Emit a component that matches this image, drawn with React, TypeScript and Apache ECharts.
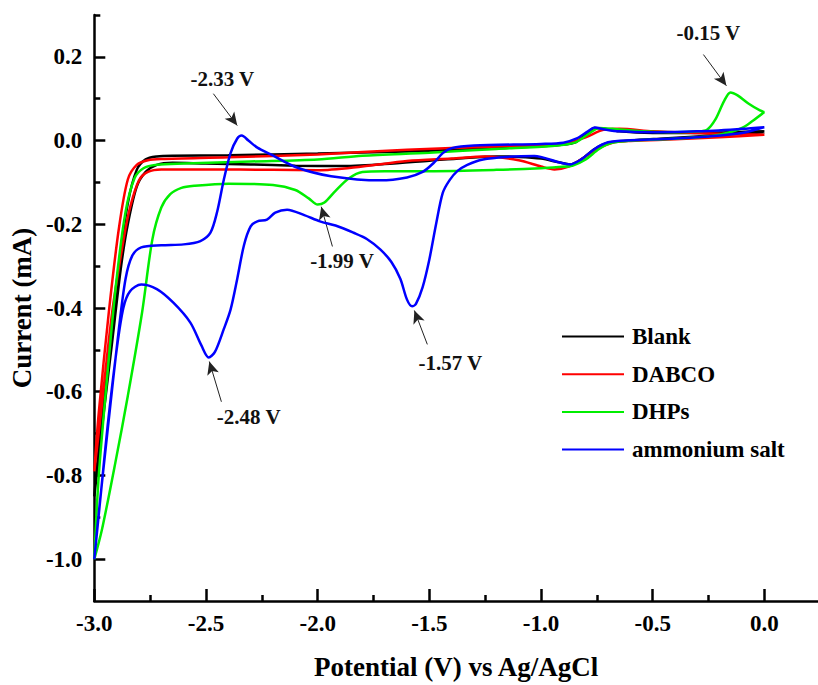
import React, { useEffect, useRef } from 'react';
import * as echarts from 'echarts';

const FONT = 'Liberation Serif';

const seriesNames = ['Blank', 'DABCO', 'DHPs', 'ammonium salt'];
const seriesColors = ['#000000', '#ff0000', '#00ee00', '#0000ff'];

const blank: number[][] = [
  [0, 0.02], [-0.15, 0.015], [-0.3, 0.01], [-0.45, 0.005], [-0.6, 0.0], [-0.7, -0.005], [-0.76, -0.02],
  [-0.82, -0.045], [-0.87, -0.057], [-0.92, -0.052], [-1.0, -0.043], [-1.1, -0.039], [-1.2, -0.038],
  [-1.35, -0.042], [-1.5, -0.048], [-1.7, -0.056], [-1.9, -0.061], [-2.1, -0.06], [-2.3, -0.057],
  [-2.5, -0.055], [-2.65, -0.053], [-2.72, -0.058], [-2.77, -0.075], [-2.81, -0.11], [-2.85, -0.2],
  [-2.88, -0.3], [-2.92, -0.48], [-2.96, -0.66], [-3.0, -0.85],
  [-2.97, -0.68], [-2.93, -0.5], [-2.89, -0.3], [-2.85, -0.15], [-2.81, -0.07], [-2.77, -0.045],
  [-2.72, -0.038], [-2.65, -0.036], [-2.4, -0.035], [-2.0, -0.031], [-1.6, -0.026], [-1.2, -0.018],
  [-0.95, -0.012], [-0.85, -0.005], [-0.8, 0.015], [-0.76, 0.03], [-0.72, 0.029], [-0.65, 0.022],
  [-0.5, 0.018], [-0.3, 0.018], [-0.15, 0.02], [0, 0.022],
];

const dabco: number[][] = [
  [0, 0.014], [-0.2, 0.008], [-0.4, 0.003], [-0.6, -0.001], [-0.68, -0.005], [-0.75, -0.02],
  [-0.82, -0.045], [-0.88, -0.063], [-0.94, -0.069], [-1.0, -0.062], [-1.1, -0.047], [-1.25, -0.038],
  [-1.4, -0.043], [-1.6, -0.049], [-1.8, -0.062], [-2.0, -0.071], [-2.2, -0.07], [-2.5, -0.069],
  [-2.7, -0.069], [-2.76, -0.075], [-2.8, -0.095], [-2.84, -0.16], [-2.87, -0.24], [-2.92, -0.41],
  [-2.97, -0.65], [-3.0, -0.79],
  [-2.98, -0.65], [-2.935, -0.41], [-2.89, -0.21], [-2.85, -0.093], [-2.81, -0.058], [-2.76, -0.047],
  [-2.7, -0.044], [-2.4, -0.04], [-2.0, -0.033], [-1.6, -0.022], [-1.2, -0.014], [-0.9, -0.008],
  [-0.8, 0.008], [-0.72, 0.026], [-0.65, 0.028], [-0.5, 0.022], [-0.3, 0.018], [-0.1, 0.015], [0, 0.014],
];

const dhps: number[][] = [
  [0, 0.068], [-0.05, 0.048], [-0.1, 0.03], [-0.2, 0.014], [-0.3, 0.008], [-0.45, 0.003], [-0.6, 0.0],
  [-0.68, -0.005], [-0.74, -0.02], [-0.8, -0.045], [-0.86, -0.06], [-0.92, -0.063], [-1.0, -0.066],
  [-1.2, -0.07], [-1.5, -0.073], [-1.7, -0.073], [-1.8, -0.075], [-1.86, -0.09], [-1.92, -0.12],
  [-1.97, -0.148], [-2.0, -0.153], [-2.04, -0.138], [-2.1, -0.118], [-2.2, -0.106], [-2.4, -0.103],
  [-2.55, -0.108], [-2.61, -0.113], [-2.66, -0.128], [-2.7, -0.16], [-2.74, -0.236], [-2.786, -0.41],
  [-2.85, -0.61], [-2.906, -0.77], [-2.966, -0.93], [-3.0, -1.0],
  [-2.98, -0.8], [-2.94, -0.55], [-2.9, -0.33], [-2.86, -0.17], [-2.82, -0.09], [-2.78, -0.066],
  [-2.72, -0.058], [-2.6, -0.055], [-2.3, -0.05], [-2.0, -0.045], [-1.8, -0.036], [-1.5, -0.029],
  [-1.2, -0.02], [-0.95, -0.013], [-0.85, -0.005], [-0.79, 0.015], [-0.74, 0.03], [-0.68, 0.028],
  [-0.55, 0.022], [-0.4, 0.02], [-0.3, 0.022], [-0.257, 0.026], [-0.22, 0.05], [-0.18, 0.095],
  [-0.152, 0.115], [-0.12, 0.108], [-0.07, 0.088], [-0.02, 0.072], [0, 0.068],
];

const ammonium: number[][] = [
  [0, 0.032], [-0.1, 0.018], [-0.25, 0.01], [-0.45, 0.004], [-0.6, 0.001], [-0.7, -0.004], [-0.76, -0.02],
  [-0.82, -0.045], [-0.87, -0.057], [-0.92, -0.052], [-1.03, -0.037], [-1.15, -0.039], [-1.26, -0.045],
  [-1.33, -0.058], [-1.375, -0.073], [-1.41, -0.095], [-1.44, -0.125], [-1.47, -0.2], [-1.5, -0.284],
  [-1.53, -0.35], [-1.56, -0.39], [-1.577, -0.396], [-1.6, -0.38], [-1.63, -0.33], [-1.67, -0.29],
  [-1.72, -0.26], [-1.78, -0.235], [-1.84, -0.22], [-1.92, -0.203], [-1.99, -0.193], [-2.06, -0.178],
  [-2.137, -0.165], [-2.19, -0.172], [-2.227, -0.189], [-2.27, -0.193], [-2.3, -0.205], [-2.33, -0.25],
  [-2.36, -0.33], [-2.39, -0.404], [-2.42, -0.45], [-2.46, -0.505], [-2.488, -0.518], [-2.52, -0.49],
  [-2.57, -0.435], [-2.645, -0.388], [-2.72, -0.355], [-2.79, -0.344], [-2.84, -0.36], [-2.87, -0.4],
  [-2.9, -0.5], [-2.94, -0.68], [-2.97, -0.84], [-3.0, -1.0],
  [-2.98, -0.89], [-2.94, -0.69], [-2.89, -0.45], [-2.86, -0.33], [-2.83, -0.275], [-2.79, -0.255],
  [-2.7, -0.25], [-2.6, -0.248], [-2.525, -0.24], [-2.48, -0.22], [-2.45, -0.17], [-2.42, -0.093],
  [-2.39, -0.03], [-2.36, 0.005], [-2.34, 0.012], [-2.31, 0.0], [-2.27, -0.017], [-2.21, -0.033],
  [-2.09, -0.065], [-1.94, -0.085], [-1.72, -0.095], [-1.6, -0.088], [-1.53, -0.075], [-1.48, -0.053],
  [-1.44, -0.03], [-1.4, -0.018], [-1.3, -0.012], [-1.0, -0.008], [-0.9, -0.005], [-0.84, 0.005],
  [-0.79, 0.022], [-0.76, 0.031], [-0.72, 0.027], [-0.65, 0.022], [-0.5, 0.02], [-0.3, 0.022],
  [-0.1, 0.028], [0, 0.032],
];

const xMajorTicks = [-3.0, -2.5, -2.0, -1.5, -1.0, -0.5, 0.0];
const xMinorTicks = [-2.75, -2.25, -1.75, -1.25, -0.75, -0.25];
const yMajorTicks = [-1.0, -0.8, -0.6, -0.4, -0.2, 0.0, 0.2];
const yMinorTicks = [-0.9, -0.7, -0.5, -0.3, -0.1, 0.1, 0.3];

const peakLabels = ['-2.33 V', '-0.15 V', '-1.99 V', '-1.57 V', '-2.48 V'];
const peakLabelAt = [[-2.427, 0.148], [-0.251, 0.258], [-1.891, -0.288], [-1.406, -0.531], [-2.309, -0.66]];
const arrowFrom = [[-2.467, 0.112], [-0.273, 0.2055], [-1.934, -0.253], [-1.509, -0.487], [-2.431, -0.624]];
const arrowTo = [[-2.36, 0.036], [-0.17, 0.131], [-1.984, -0.158], [-1.567, -0.406], [-2.485, -0.528]];

export default function App() {
  const ref = useRef<HTMLDivElement>(null);
  useEffect(() => {
    document.body.style.margin = '0';
    if (!ref.current) return;
    const chart = echarts.init(ref.current, undefined, { renderer: 'svg' });
    const datasets = [blank, dabco, dhps, ammonium];
    const series: any[] = seriesNames.map((name, i) => ({
      name,
      type: 'line',
      data: datasets[i],
      xAxisIndex: 0,
      yAxisIndex: 0,
      showSymbol: false,
      symbol: 'none',
      smooth: 0.3,
      lineStyle: { color: seriesColors[i], width: 2.5 },
      itemStyle: { color: seriesColors[i] },
      z: 2 + i,
    }));
    series[3].markLine = {
      silent: true,
      animation: false,
      symbol: ['none', 'arrow'],
      symbolSize: [9, 13],
      label: { show: false },
      lineStyle: { color: '#222', width: 1, type: 'solid' },
      data: arrowFrom.map((f, i) => [
        { coord: f, symbol: 'none' },
        { coord: arrowTo[i], symbol: 'arrow' },
      ]),
    };
    series[3].markPoint = {
      silent: true,
      animation: false,
      symbol: 'circle',
      symbolSize: 1,
      itemStyle: { color: 'rgba(0,0,0,0)' },
      label: {
        show: true,
        position: 'inside',
        formatter: (p: any) => p.name,
        fontFamily: FONT,
        fontWeight: 'bold',
        fontSize: 21,
        color: '#111',
      },
      data: peakLabels.map((t, i) => ({ name: t, coord: peakLabelAt[i] })),
    };

    const axisLineStyle = { color: '#000', width: 2.5 };
    chart.setOption({
      animation: false,
      backgroundColor: '#fff',
      textStyle: { fontFamily: FONT },
      grid: { left: 94, right: 0, top: 15, bottom: 83, containLabel: false },
      legend: {
        data: seriesNames,
        orient: 'vertical',
        left: 557,
        top: 320,
        icon: 'rect',
        itemWidth: 62,
        itemHeight: 2,
        itemGap: 14.7,
        selectedMode: false,
        textStyle: { fontFamily: FONT, fontWeight: 'bold', fontSize: 23, color: '#000', padding: [0, 0, 0, 3] },
      },
      xAxis: [
        {
          type: 'value',
          min: -3,
          max: 0.24,
          position: 'bottom',
          name: 'Potential (V) vs Ag/AgCl',
          nameLocation: 'middle',
          nameGap: 52,
          nameTextStyle: { fontFamily: FONT, fontWeight: 'bold', fontSize: 27, color: '#000' },
          axisLine: { show: true, onZero: false, lineStyle: axisLineStyle },
          axisTick: { show: true, inside: true, length: 12, customValues: xMajorTicks, lineStyle: { color: '#000', width: 2.5 } },
          axisLabel: {
            show: true,
            customValues: xMajorTicks,
            margin: 11,
            formatter: (v: number) => v.toFixed(1),
            fontFamily: FONT, fontWeight: 'bold', fontSize: 23, color: '#000',
          },
          splitLine: { show: false },
        },
        {
          type: 'value',
          min: -3,
          max: 0.24,
          position: 'bottom',
          axisLine: { show: false, onZero: false },
          axisTick: { show: true, inside: true, length: 6, customValues: xMinorTicks, lineStyle: { color: '#000', width: 2.5 } },
          axisLabel: { show: false },
          splitLine: { show: false },
        },
      ],
      yAxis: [
        {
          type: 'value',
          min: -1.1,
          max: 0.3,
          position: 'left',
          name: 'Current (mA)',
          nameLocation: 'middle',
          nameGap: 57,
          nameTextStyle: { fontFamily: FONT, fontWeight: 'bold', fontSize: 27, color: '#000' },
          axisLine: { show: true, onZero: false, lineStyle: axisLineStyle },
          axisTick: { show: true, inside: true, length: 11, customValues: yMajorTicks, lineStyle: { color: '#000', width: 2.5 } },
          axisLabel: {
            show: true,
            customValues: yMajorTicks,
            margin: 12,
            formatter: (v: number) => (Math.abs(v) < 1e-9 ? '0.0' : v.toFixed(1)),
            fontFamily: FONT, fontWeight: 'bold', fontSize: 23, color: '#000',
          },
          splitLine: { show: false },
        },
        {
          type: 'value',
          min: -1.1,
          max: 0.3,
          position: 'left',
          axisLine: { show: false, onZero: false },
          axisTick: { show: true, inside: true, length: 6, customValues: yMinorTicks, lineStyle: { color: '#000', width: 2.5 } },
          axisLabel: { show: false },
          splitLine: { show: false },
        },
      ],
      series,
    });
    return () => chart.dispose();
  }, []);
  return <div ref={ref} style={{ width: 818, height: 685 }} />;
}
